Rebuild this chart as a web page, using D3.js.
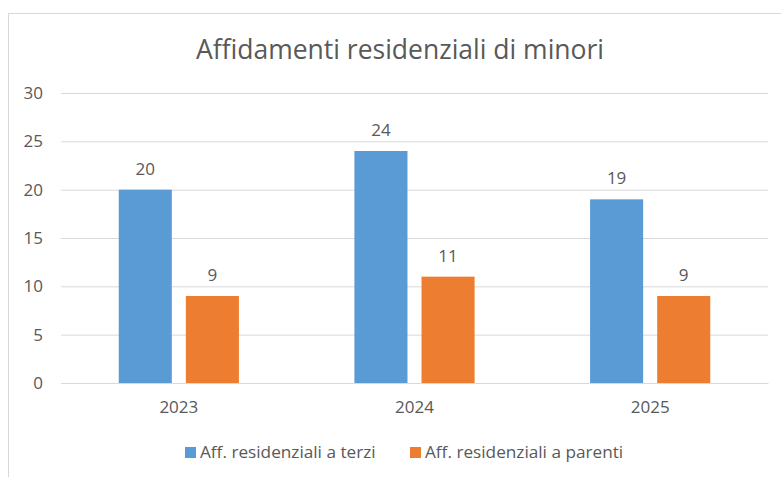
<!DOCTYPE html>
<html>
<head>
<meta charset="utf-8">
<script src="https://cdn.jsdelivr.net/npm/d3@7"></script>
<style>
  body { margin: 0; background: #fff; }
  svg { display: block; }
  text { font-family: "Open Sans", "Noto Sans", sans-serif; fill: #595959; }
  .grid line { stroke: #d9d9d9; stroke-width: 1; }
</style>
</head>
<body>
<div id="chart-area"></div>
<script>
var years = ["2023", "2024", "2025"];
var seriesNames = ["Aff. residenziali a terzi", "Aff. residenziali a parenti"];
var terzi = [20, 24, 19];
var parenti = [9, 11, 9];
var yTicks = [0, 5, 10, 15, 20, 25, 30];
var colors = ["#5b9bd5", "#ed7d31"];

var W = 781, H = 477;
var margin = { top: 93, right: 13, bottom: 94, left: 61 };
var width = W - margin.left - margin.right;
var height = H - margin.top - margin.bottom;

var svg = d3.select("#chart-area")
    .append("svg")
    .attr("width", W)
    .attr("height", H);

// chart frame (runs off the right and bottom edges)
svg.append("rect")
    .attr("x", 8.5)
    .attr("y", 13.5)
    .attr("width", 800)
    .attr("height", 500)
    .attr("fill", "none")
    .attr("stroke", "#d9d9d9");

svg.append("text")
    .attr("x", 400)
    .attr("y", 59)
    .attr("text-anchor", "middle")
    .attr("font-size", 26.5)
    .text("Affidamenti residenziali di minori");

var g = svg.append("g")
    .attr("transform", "translate(" + margin.left + "," + margin.top + ")");

var x0 = d3.scaleBand().domain(years).range([0, width]).paddingInner(0.49).paddingOuter(0.245);
var x1 = d3.scaleBand().domain([0, 1]).range([0, x0.bandwidth()]).paddingInner(0.209);
var y = d3.scaleLinear().domain([0, 30]).range([height, 0]);

var yAxis = g.append("g")
    .attr("class", "grid")
    .call(d3.axisLeft(y).tickValues(yTicks).tickSize(-width).tickPadding(18));
yAxis.select(".domain").remove();
yAxis.selectAll("text").attr("font-size", 17).attr("fill", "#595959");

var data = years.map((yr, i) => ({ year: yr, values: [terzi[i], parenti[i]] }));

var groups = g.selectAll(".year")
    .data(data)
    .enter().append("g")
    .attr("class", "year")
    .attr("transform", d => "translate(" + x0(d.year) + ",0)");

groups.selectAll("rect")
    .data(d => d.values.map((v, k) => ({ k: k, v: v })))
    .enter().append("rect")
    .attr("x", d => x1(d.k))
    .attr("y", d => y(d.v))
    .attr("width", x1.bandwidth())
    .attr("height", d => height - y(d.v))
    .attr("fill", d => colors[d.k]);

groups.selectAll(".lbl")
    .data(d => d.values.map((v, k) => ({ k: k, v: v })))
    .enter().append("text")
    .attr("class", "lbl")
    .attr("x", d => x1(d.k) + x1.bandwidth() / 2)
    .attr("y", d => y(d.v) - 15)
    .attr("text-anchor", "middle")
    .attr("font-size", 17)
    .text(d => d.v);

// x axis baseline and category labels
var xAxis = g.append("g")
    .attr("transform", "translate(0," + height + ")")
    .call(d3.axisBottom(x0).tickSize(0).tickPadding(18));
xAxis.select(".domain").attr("stroke", "#d9d9d9").attr("d", "M0.5,0.5H" + (width + 0.5));
xAxis.selectAll("text").attr("font-size", 17).attr("fill", "#595959");

// legend
var legendX = [185, 410];
var legend = svg.selectAll(".legend")
    .data(seriesNames)
    .enter().append("g")
    .attr("class", "legend")
    .attr("transform", (d, i) => "translate(" + legendX[i] + ",447)");

legend.append("rect")
    .attr("width", 11)
    .attr("height", 11)
    .attr("fill", (d, i) => colors[i]);

legend.append("text")
    .attr("x", 15)
    .attr("y", 11)
    .attr("font-size", 17.2)
    .text(d => d);
</script>
</body>
</html>
